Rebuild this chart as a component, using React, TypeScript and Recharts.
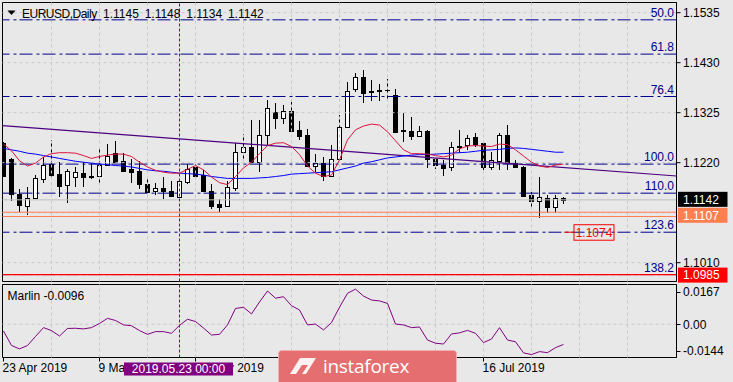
import React from 'react';
import { ComposedChart, Bar, Line, XAxis, YAxis, ReferenceLine, ReferenceArea } from 'recharts';

const FONT = '"Liberation Sans", Arial, sans-serif';
const BG = '#e8e8e8';

// ---- candles (EURUSD daily, 23 Apr 2019 .. 30 Jul 2019) ----
const opens = [1.1261,1.1228,1.1154,1.1130,1.1145,1.1185,1.1217,1.1196,1.1173,1.1191,
1.1198,1.1193,1.1192,1.1216,1.1240,1.1224,1.1207,1.1203,1.1175,1.1161,
1.1166,1.1160,1.1149,1.1180,1.1210,1.1194,1.1161,1.1133,1.1130,1.1166,
1.1242,1.1252,1.1222,1.1278,1.1327,1.1313,1.1329,1.1289,1.1278,1.1213,
1.1219,1.1192,1.1228,1.1294,1.1374,1.1400,1.1371,1.1373,1.1373,1.1362,
1.1288,1.1287,1.1277,1.1287,1.1227,1.1215,1.1210,1.1255,1.1257,1.1275,
1.1262,1.1212,1.1224,1.1278,1.1220,1.1212,1.1152,1.1140,1.1145,1.1126,
1.1145];
const highs = [1.1263,1.1229,1.1164,1.1169,1.1194,1.1231,1.1268,1.1221,1.1207,1.1210,
1.1221,1.1219,1.1254,1.1259,1.1266,1.1240,1.1227,1.1224,1.1185,1.1177,
1.1191,1.1182,1.1182,1.1217,1.1217,1.1205,1.1175,1.1143,1.1182,1.1262,
1.1280,1.1310,1.1310,1.1352,1.1345,1.1341,1.1347,1.1308,1.1291,1.1238,
1.1231,1.1257,1.1320,1.1390,1.1409,1.1415,1.1394,1.1385,1.1395,1.1374,
1.1324,1.1315,1.1297,1.1289,1.1230,1.1226,1.1264,1.1289,1.1278,1.1283,
1.1266,1.1243,1.1282,1.1299,1.1226,1.1213,1.1159,1.1189,1.1152,1.1152,
1.1148];
const lows = [1.1190,1.1140,1.1117,1.1111,1.1144,1.1177,1.1189,1.1148,1.1136,1.1170,
1.1170,1.1186,1.1173,1.1214,1.1221,1.1201,1.1178,1.1165,1.1156,1.1152,
1.1143,1.1149,1.1146,1.1175,1.1189,1.1159,1.1122,1.1117,1.1126,1.1161,
1.1228,1.1219,1.1201,1.1257,1.1291,1.1301,1.1285,1.1268,1.1212,1.1201,
1.1182,1.1189,1.1226,1.1292,1.1369,1.1346,1.1350,1.1350,1.1352,1.1284,
1.1264,1.1268,1.1275,1.1208,1.1207,1.1192,1.1203,1.1240,1.1247,1.1254,
1.1205,1.1205,1.1205,1.1205,1.1208,1.1147,1.1128,1.1103,1.1115,1.1115,
1.1134];
const closes = [1.1192,1.1154,1.1132,1.1145,1.1187,1.1215,1.1195,1.1172,1.1203,1.1200,
1.1191,1.1191,1.1215,1.1234,1.1222,1.1203,1.1201,1.1175,1.1158,1.1166,
1.1161,1.1151,1.1181,1.1206,1.1192,1.1161,1.1130,1.1128,1.1168,1.1242,
1.1252,1.1221,1.1278,1.1334,1.1313,1.1329,1.1287,1.1277,1.1213,1.1219,
1.1192,1.1228,1.1294,1.1371,1.1401,1.1367,1.1368,1.1370,1.1372,1.1285,
1.1287,1.1277,1.1287,1.1227,1.1215,1.1208,1.1252,1.1252,1.1271,1.1260,
1.1212,1.1225,1.1278,1.1220,1.1210,1.1150,1.1140,1.1147,1.1128,1.1145,
1.1142];

// ---- moving averages ----
const maFast = [1.1259,1.1245,1.1224,1.1213,1.1219,1.1232,1.1239,1.1241,1.1241,1.1240,
1.1235,1.1229,1.1233,1.1236,1.1238,1.1238,1.1233,1.1221,1.1211,1.1204,
1.1200,1.1198,1.1198,1.1206,1.1214,1.1205,1.1190,1.1178,1.1174,1.1191,
1.1209,1.1221,1.1239,1.1256,1.1261,1.1262,1.1254,1.1237,1.1213,1.1198,
1.1191,1.1194,1.1226,1.1268,1.1289,1.1297,1.1301,1.1299,1.1285,1.1266,
1.1247,1.1239,1.1239,1.1238,1.1235,1.1232,1.1236,1.1249,1.1255,1.1256,
1.1255,1.1254,1.1259,1.1258,1.1247,1.1234,1.1221,1.1213,1.1210,1.1215,
1.1217];
const maSlow = [1.1250,1.1247,1.1244,1.1240,1.1238,1.1235,1.1232,1.1229,1.1226,1.1223,
1.1221,1.1219,1.1217,1.1216,1.1214,1.1213,1.1211,1.1208,1.1205,1.1203,
1.1202,1.1200,1.1198,1.1197,1.1196,1.1194,1.1191,1.1189,1.1187,1.1187,
1.1187,1.1187,1.1188,1.1189,1.1191,1.1193,1.1196,1.1197,1.1198,1.1199,
1.1200,1.1201,1.1205,1.1209,1.1213,1.1219,1.1222,1.1226,1.1230,1.1232,
1.1234,1.1236,1.1237,1.1237,1.1238,1.1239,1.1240,1.1241,1.1242,1.1244,
1.1246,1.1247,1.1248,1.1250,1.1251,1.1250,1.1248,1.1246,1.1244,1.1242,
1.1242];

// ---- Marlin oscillator ----
const marlin = [-0.0032,-0.0101,-0.0117,-0.0101,-0.0058,-0.0016,-0.0030,-0.0056,-0.0020,-0.0019,
-0.0022,-0.0016,0.0004,0.0028,0.0018,-0.0003,-0.0007,-0.0030,-0.0048,-0.0035,
-0.0035,-0.0043,-0.0005,0.0024,0.0013,-0.0018,-0.0051,-0.0048,-0.0003,0.0075,
0.0081,0.0049,0.0106,0.0158,0.0124,0.0131,0.0088,0.0068,-0.0003,0.0001,
-0.0027,0.0008,0.0081,0.0147,0.0167,0.0134,0.0115,0.0111,0.0099,0.0001,
-0.0003,-0.0016,-0.0013,-0.0075,-0.0090,-0.0094,-0.0046,-0.0041,-0.0029,-0.0043,
-0.0087,-0.0070,-0.0016,-0.0075,-0.0083,-0.0136,-0.0144,-0.0130,-0.0135,-0.0111,
-0.0096];

// ---- axes / levels ----
const xDomain = [-0.125, 84.125];
const priceDomain = [1.09705, 1.15564];
const priceGrid = [1.1010, 1.1115, 1.1220, 1.1325, 1.1430, 1.1535];
const priceTicks = [1.1010, 1.1220, 1.1325, 1.1430, 1.1535];
const gridIdx = [6, 12, 18, 24, 30, 36, 42, 48, 54, 60, 66, 72, 78];
const dateTickIdx = [0, 12, 24, 36, 48, 60];
const dateTickLabels = ['23 Apr 2019', '9 May 2019', '27 May 2019', '12 Jun 2019', '28 Jun 2019', '16 Jul 2019'];
const dateTickShown = [true, true, true, false, false, true]; // two are under the watermark
const crosshairIdx = 22;
const crosshairLabel = '2019.05.23 00:00';
const fibLevels = [1.1520, 1.1448, 1.1359, 1.1217, 1.1156, 1.1074, 1.0985];
const fibLabels = ['50.0', '61.8', '76.4', '100.0', '110.0', '123.6', '138.2'];
const trendLine = [{ x: -0.125, y: 1.1298 }, { x: 84.125, y: 1.1192 }];
const supportLevels = [1.1116, 1.1107];
const supportLabel = '1.1107';
const bidPrice = 1.1142;
const bidLabel = '1.1142';
const targetLevel = 1.0985;
const targetLabel = '1.0985';
const markedLevel = 1.1074;
const markedSegment = [70.06, 71.31];
const markedLabel = '1.1074';
const marlinDomain = [-0.0158, 0.0189];
const marlinTicks = [-0.0144, 0, 0.0167];
const marlinTickLabels = ['-0.0144', '0.00', '0.0167'];
const header = 'EURUSD,Daily';
const headerValues = '1.1145 1.1148 1.1134 1.1142';
const marlinTitle = 'Marlin -0.0096';

const data = opens.map((o, i) => ({
  i,
  open: o,
  high: highs[i],
  low: lows[i],
  close: closes[i],
  fast: maFast[i],
  slow: maSlow[i],
}));
const mdata = marlin.map((v, i) => ({ i, v }));

function CandleShape(props: any) {
  const { x, y, width, height, payload } = props;
  if (!payload || height == null || isNaN(y)) return null;
  const { open, close, high, low } = payload;
  const k = high > low ? height / (high - low) : 0;
  const py = (v: number) => y + (high - v) * k;
  const cx = Math.floor(x + width / 2 + 0.01) + 0.5;
  const bull = close > open;
  const t = Math.round(py(Math.max(open, close)));
  const b = Math.round(py(Math.min(open, close)));
  const bh = b - t;
  return (
    <g>
      <line x1={cx} x2={cx} y1={Math.round(y)} y2={Math.round(y + height)} stroke="#000" strokeWidth={1} />
      {bh < 1 ? (
        <line x1={cx - 2.5} x2={cx + 2.5} y1={t + 0.5} y2={t + 0.5} stroke="#000" strokeWidth={1} />
      ) : (
        <rect x={cx - 2} y={t + 0.5} width={4} height={bh} fill={bull ? '#fff' : '#000'} stroke="#000" strokeWidth={1} />
      )}
    </g>
  );
}

function FibLabel(props: any) {
  const { viewBox, text } = props;
  if (!viewBox) return null;
  return (
    <text x={viewBox.x + viewBox.width - 2.5} y={viewBox.y - 3} textAnchor="end" fontSize={12}
      fontFamily={FONT} fill="#00008B">{text}</text>
  );
}

function PriceTag(props: any) {
  const { viewBox, text, bg, fg, dy } = props;
  if (!viewBox) return null;
  const x0 = viewBox.x + viewBox.width + 1.5;
  const yc = viewBox.y + (dy || 0);
  return (
    <g>
      <rect x={x0} y={yc - 7.5} width={49.5} height={15} fill={bg} />
      <text x={x0 + 5} y={yc} dy="0.36em" fontSize={12} fontFamily={FONT} fill={fg}>{text}</text>
    </g>
  );
}

function BoxTag(props: any) {
  const { viewBox, text } = props;
  if (!viewBox) return null;
  const x0 = viewBox.x + viewBox.width;
  const yc = viewBox.y;
  return (
    <g>
      <rect x={x0} y={yc - 7.5} width={40} height={15.5} fill="none" stroke="#ff0000" strokeWidth={1} />
      <text x={x0 + 20} y={yc} dy="0.38em" textAnchor="middle" fontSize={12} fontFamily={FONT} fill="#ff0000">{text}</text>
    </g>
  );
}

// bottom axis ticks: date labels, and the crosshair date box drawn last (on top)
function DateTick(props: any) {
  const { x, y, payload } = props;
  const v = payload.value;
  if (v === crosshairIdx) {
    return (
      <g>
        <rect x={x - 55.5} y={y - 1} width={109} height={13} fill="#800080" />
        <text x={x - 1} y={y + 5.5} dy="0.36em" textAnchor="middle" fontSize={12} fontFamily={FONT} fill="#fff">{crosshairLabel}</text>
      </g>
    );
  }
  const idx = dateTickIdx.indexOf(v);
  const xl = Math.floor(x + 0.01) + 0.5;
  return (
    <g>
      <line x1={xl} x2={xl} y1={y - 6} y2={y - 2} stroke="#000" />
      {idx >= 0 && dateTickShown[idx] ? (
        <text x={x - 1} y={y} dy="0.71em" textAnchor="start" fontSize={12} fontFamily={FONT} fill="#000">
          {dateTickLabels[idx]}
        </text>
      ) : null}
    </g>
  );
}

function MarlinTick(props: any) {
  const { x, y, payload } = props;
  const v = payload.value;
  const idx = marlinTicks.indexOf(v);
  const shift = v > 0 ? 2.6 : v < 0 ? -3.6 : 0;
  const yy = y + shift;
  return (
    <g>
      <line x1={x - 6.5} x2={x - 2.5} y1={Math.round(yy) + 0.5} y2={Math.round(yy) + 0.5} stroke="#000" />
      <text x={x} y={yy} dy="0.36em" fontSize={12} fontFamily={FONT} fill="#000">{idx >= 0 ? marlinTickLabels[idx] : ''}</text>
    </g>
  );
}

const gridStroke = '#c8c8c8';

export default function App() {
  return (
    <div style={{ position: 'fixed', left: 0, top: 0, width: 733, height: 382, background: BG, overflow: 'hidden' }}>
      <div style={{ position: 'absolute', left: 0, top: 0 }}>
        <ComposedChart width={733} height={284} data={data} margin={{ top: 2.5, right: 0, left: 2.5, bottom: 2.5 }}>
          <XAxis type="number" dataKey="i" domain={xDomain} allowDataOverflow hide />
          <YAxis orientation="right" width={56.5} domain={priceDomain} allowDataOverflow ticks={priceTicks}
            interval={0} tickFormatter={(v: number) => v.toFixed(4)} tickSize={4} tickMargin={2.5}
            tick={{ fontSize: 12, fill: '#000', fontFamily: FONT }} axisLine={{ stroke: '#000' }} tickLine={{ stroke: '#000' }} />
          {priceGrid.map((p) => (
            <ReferenceLine key={'hg' + p} y={p} stroke={gridStroke} strokeDasharray="3 3" />
          ))}
          {gridIdx.map((g) => (
            <ReferenceLine key={'vg' + g} x={g} stroke={gridStroke} strokeDasharray="3 3" />
          ))}
          <ReferenceLine y={bidPrice} stroke="#c0c0c0" />
          {supportLevels.map((p) => (
            <ReferenceLine key={'s' + p} y={p} stroke="#ff7f50" />
          ))}
          <Bar dataKey={(d: any) => [d.low, d.high]} barSize={5} shape={CandleShape} isAnimationActive={false} />
          {fibLevels.map((p, k) => (
            <ReferenceLine key={'f' + p} y={p} stroke="#00008B" strokeDasharray="13 3 3 4"
              label={<FibLabel text={fibLabels[k]} />} />
          ))}
          <ReferenceLine y={targetLevel} stroke="#ff0000" strokeWidth={1.2} />
          <ReferenceLine segment={trendLine} stroke="#4b0082" strokeWidth={1.2} />
          <Line dataKey="slow" stroke="#0000ff" strokeWidth={1} dot={false} isAnimationActive={false} />
          <Line dataKey="fast" stroke="#dc143c" strokeWidth={1} dot={false} isAnimationActive={false} />
          <ReferenceLine x={crosshairIdx} stroke="#800080" strokeDasharray="3 2" />
          <ReferenceLine segment={[{ x: markedSegment[0], y: markedLevel }, { x: markedSegment[1], y: markedLevel }]}
            stroke="#ff0000" label={<BoxTag text={markedLabel} />} />
          <ReferenceArea x1={xDomain[0]} x2={xDomain[1]} y1={priceDomain[0]} y2={priceDomain[1]} fill="none" stroke="#000" strokeWidth={1} />
          <ReferenceLine y={bidPrice} stroke="none" label={<PriceTag text={bidLabel} bg="#000" fg="#fff" dy={-0.5} />} />
          <ReferenceLine y={supportLevels[1]} stroke="none" label={<PriceTag text={supportLabel} bg="#ff7f50" fg="#fff" dy={-1.2} />} />
          <ReferenceLine y={targetLevel} stroke="none" label={<PriceTag text={targetLabel} bg="#ff0000" fg="#fff" dy={0.5} />} />
        </ComposedChart>
      </div>
      <div style={{ position: 'absolute', left: 0, top: 282 }}>
        <ComposedChart width={733} height={100} data={mdata} margin={{ top: 2.5, right: 0, left: 2.5, bottom: 0 }}>
          <XAxis type="number" dataKey="i" domain={xDomain} allowDataOverflow ticks={[...dateTickIdx, crosshairIdx]} interval={0}
            height={24.5} tickSize={4} tickMargin={2} axisLine={false} tickLine={false} tick={<DateTick />} />
          <YAxis orientation="right" width={56.5} domain={marlinDomain} allowDataOverflow ticks={marlinTicks}
            interval={0} tickSize={4} tickMargin={2.5} tickLine={false} axisLine={{ stroke: '#000' }} tick={<MarlinTick />} />
          <ReferenceLine y={0} stroke={gridStroke} strokeDasharray="3 3" />
          {gridIdx.map((g) => (
            <ReferenceLine key={'mvg' + g} x={g} stroke={gridStroke} strokeDasharray="3 3" />
          ))}
          <Line dataKey="v" stroke="#800080" strokeWidth={1} dot={false} isAnimationActive={false} />
          <ReferenceArea x1={xDomain[0]} x2={xDomain[1]} y1={marlinDomain[0]} y2={marlinDomain[1]} fill="none" stroke="#000" strokeWidth={1} />
          <ReferenceLine x={crosshairIdx} stroke="#800080" strokeDasharray="3 2" />
        </ComposedChart>
      </div>
      <svg style={{ position: 'absolute', left: 0, top: 0, pointerEvents: 'none' }} width={733} height={382}>
        <polygon points="7.5,10.5 15.5,10.5 11.5,15" fill="#000" />
        <text x={22} y={17.5} fontSize={12} fontFamily={FONT} fill="#000" letterSpacing={-0.5}>{header}</text>
        <text x={103} y={17.5} fontSize={12} fontFamily={FONT} fill="#000" wordSpacing={2.5}>{headerValues}</text>
        <text x={7.5} y={300} fontSize={12} fontFamily={FONT} fill="#000">{marlinTitle}</text>
        <rect x={278.5} y={350.5} width={178} height={40} rx={3} fill="#e46e70" stroke="#f2b0b0" />
        <polygon points="290,374 300,358 316,358 306,374" fill="#ffffff" opacity={0.9} />
        <polygon points="296,374 302,365 308,365 302,374" fill="#e46e70" />
        <text x={323} y={373} fontSize={19} fontFamily='"Open Sans", sans-serif' fill="#fff" letterSpacing={-0.3}>instaforex</text>
      </svg>
    </div>
  );
}
